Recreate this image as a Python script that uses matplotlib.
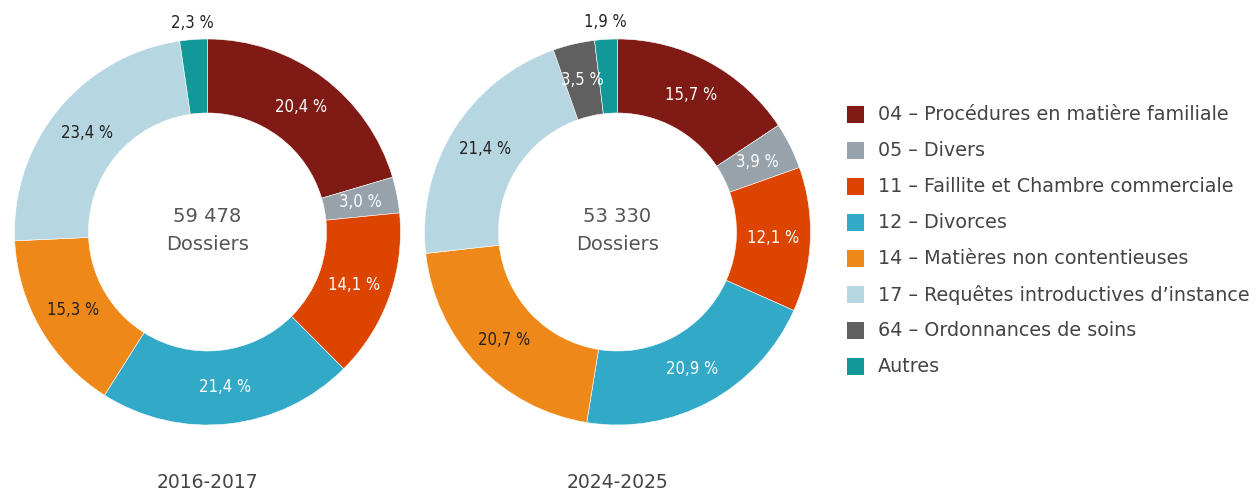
import matplotlib
matplotlib.use('Agg')
import matplotlib.pyplot as plt
import numpy as np
from matplotlib.patches import Rectangle

plt.rcParams['font.family'] = 'DejaVu Sans'

# categories and values
categories = ['04 – Procédures en matière familiale', '05 – Divers',
              '11 – Faillite et Chambre commerciale', '12 – Divorces',
              '14 – Matières non contentieuses', '17 – Requêtes introductives d\u2019instance',
              '64 – Ordonnances de soins', 'Autres']
colors = ['#7f1a15', '#98a2aa', '#dd4400', '#32a9c6', '#ee8818', '#b6d7e2', '#606060', '#13989a']
label_colors = ['white', 'white', 'white', 'white', '#222222', '#222222', 'white', '#222222']

years = ['2016-2017', '2024-2025']
totals = ['59 478', '53 330']
values_2016 = [20.4, 3.0, 14.1, 21.4, 15.3, 23.4, 0.0, 2.3]
values_2024 = [15.7, 3.9, 12.1, 20.9, 20.7, 21.4, 3.5, 1.9]

W, H = 1257, 492
fig = plt.figure(figsize=(W / 100, H / 100), dpi=100)
ax = fig.add_axes([0, 0, 1, 1])

R = 193
width = 74
centers = [(207.5, H - 232), (617.5, H - 232)]

for vals, (cx, cy), year, total in zip([values_2016, values_2024], centers, years, totals):
    wedges, _ = ax.pie(vals, colors=colors, radius=R, center=(cx, cy),
                       startangle=90, counterclock=False,
                       wedgeprops=dict(width=width, edgecolor='white', linewidth=0.4))
    for w, v, lc in zip(wedges, vals, label_colors):
        if v == 0:
            continue
        ang = np.deg2rad((w.theta1 + w.theta2) / 2)
        txt = f'{v:.1f} %'.replace('.', ',')
        if v < 3:
            # small slices get their label outside, above the ring
            r = R + 17
            col = '#222222'
        else:
            r = R - width / 2
            col = lc
        ax.text(cx + r * np.cos(ang), cy + r * np.sin(ang), txt,
                ha='center', va='center', color=col, fontsize=12,
                fontstretch='condensed')
    ax.text(cx, cy + 16, total, ha='center', va='center', fontsize=14, color='#555555')
    ax.text(cx, cy - 13, 'Dossiers', ha='center', va='center', fontsize=14, color='#555555')
    ax.text(cx, H - 482, year, ha='center', va='center', fontsize=13.5, color='#444444')

ax.set_xlim(0, W)
ax.set_ylim(0, H)
ax.set_aspect('equal')
ax.axis('off')

# legend
for i, (cat, c) in enumerate(zip(categories, colors)):
    y = H - (115 + 36 * i)
    ax.add_patch(Rectangle((847, y - 8), 17, 17, facecolor=c, edgecolor='none'))
    ax.text(878, y, cat, ha='left', va='center', fontsize=13.8, color='#444444')

fig.savefig('out.png', dpi=100, facecolor='white')
